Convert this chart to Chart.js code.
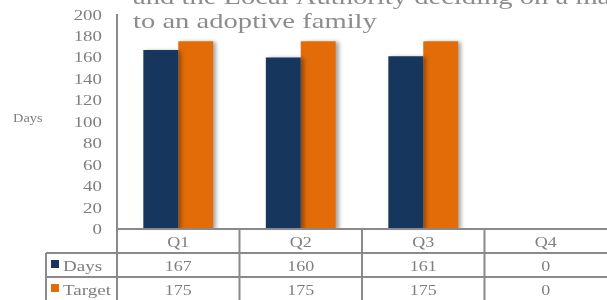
<!DOCTYPE html>
<html>
<head>
<meta charset="utf-8">
<script src="https://cdn.jsdelivr.net/npm/chart.js@4/dist/chart.umd.min.js"></script>
<style>
  body { margin: 0; background: #fff; }
  #wrap { width: 607px; height: 300px; position: relative; }
</style>
</head>
<body>
<div id="wrap"><canvas id="chart"></canvas></div>
<script>
// ===== DATA =====
let quarters = ["Q1", "Q2", "Q3", "Q4"];
let daysValues = [167, 160, 161, 0];
let targetValues = [175, 175, 175, 0];
let seriesNames = ["Days", "Target"];
let titleLines = ["and the Local Authority deciding on a match", "to an adoptive family"];
let axisTitle = "Days";

let navy = "#17365d";
let orange = "#e36c09";
let gray = "#7f7f7f";
let lineGray = "#8a8a8a";
let serif = "'Liberation Serif', 'DejaVu Serif', serif";

// text looks stretched sideways in the picture, so draw it that way
function wideText(ctx, str, x, y, size, align, sx, color) {
  ctx.save();
  ctx.font = size + "px " + serif;
  ctx.fillStyle = color || gray;
  ctx.textAlign = align;
  ctx.textBaseline = "alphabetic";
  ctx.translate(x, y);
  ctx.scale(sx, 1);
  ctx.fillText(str, 0, 0);
  ctx.restore();
}

// ===== BAR SHADOW =====
let shadowPlugin = {
  id: "shadow",
  beforeDatasetsDraw(chart) {
    let ctx = chart.ctx;
    ctx.save();
    ctx.shadowColor = "rgba(0,0,0,0.35)";
    ctx.shadowBlur = 4;
    ctx.shadowOffsetX = 3;
    ctx.shadowOffsetY = 1;
  },
  afterDatasetsDraw(chart) {
    chart.ctx.restore();
  }
};

// ===== TITLE, TICKS, DATA TABLE =====
let extrasPlugin = {
  id: "extras",
  afterDraw(chart) {
    let ctx = chart.ctx;
    let area = chart.chartArea;
    let x = chart.scales.x;
    let y = chart.scales.y;

    // title (first line runs off the top)
    titleLines.forEach((t, i) => {
      wideText(ctx, t, 133, 4 + i * 23.5, 22, "left", 1.3, "#8c8c8c");
    });

    // y tick labels
    y.ticks.forEach(t => {
      let py = y.getPixelForValue(t.value);
      wideText(ctx, String(t.value), 102, py + 5, 14, "right", 1.35);
    });

    // axis title, written level
    wideText(ctx, axisTitle, 13, 122, 12.5, "left", 1.15);

    // table
    let colW = (area.right - area.left) / quarters.length;
    let top = area.bottom;
    let rowH = 24;
    let tableLeft = 46;

    ctx.save();
    ctx.strokeStyle = lineGray;
    ctx.lineWidth = 2;
    ctx.beginPath();
    // horizontal lines
    ctx.moveTo(area.left, top); ctx.lineTo(chart.width, top);
    for (let r = 1; r <= 3; r++) {
      ctx.moveTo(tableLeft, top + r * rowH); ctx.lineTo(chart.width, top + r * rowH);
    }
    // vertical lines
    ctx.moveTo(tableLeft, top + rowH); ctx.lineTo(tableLeft, chart.height);
    ctx.moveTo(area.left, top); ctx.lineTo(area.left, chart.height);
    quarters.forEach((q, i) => {
      if (i == 0) return;
      let cx = x.getPixelForValue(i) - colW / 2;
      ctx.moveTo(cx, top); ctx.lineTo(cx, chart.height);
    });
    ctx.stroke();
    ctx.restore();

    // header row
    quarters.forEach((q, i) => {
      wideText(ctx, q, x.getPixelForValue(i), top + 18, 15, "center", 1.2);
    });

    // series rows
    let rows = [daysValues, targetValues];
    let colors = [navy, orange];
    rows.forEach((vals, r) => {
      let ry = top + (r + 1) * rowH;
      ctx.fillStyle = colors[r];
      ctx.fillRect(51, ry + 7, 8, 8);
      wideText(ctx, seriesNames[r], 63, ry + 18, 15, "left", 1.27);
      vals.forEach((v, i) => {
        wideText(ctx, String(v), x.getPixelForValue(i), ry + 18, 15, "center", 1.2);
      });
    });
  }
};

// ===== CHART =====
new Chart(document.getElementById("chart"), {
  type: "bar",
  data: {
    labels: quarters,
    datasets: [
      { label: seriesNames[0], data: daysValues, backgroundColor: navy,
        categoryPercentage: 0.57, barPercentage: 1 },
      { label: seriesNames[1], data: targetValues, backgroundColor: orange,
        categoryPercentage: 0.57, barPercentage: 1 }
    ]
  },
  options: {
    responsive: true,
    maintainAspectRatio: false,
    animation: false,
    layout: { padding: { top: 14.5, left: 0, right: 0, bottom: 71 } },
    plugins: {
      legend: { display: false },
      tooltip: { enabled: false },
      title: { display: false }
    },
    scales: {
      x: { display: false },
      y: {
        min: 0,
        max: 200,
        ticks: { stepSize: 20, display: false },
        grid: { display: false },
        border: { display: true, color: lineGray, width: 2 },
        afterFit: s => { s.width = 117; }
      }
    }
  },
  plugins: [shadowPlugin, extrasPlugin]
});
</script>
</body>
</html>
